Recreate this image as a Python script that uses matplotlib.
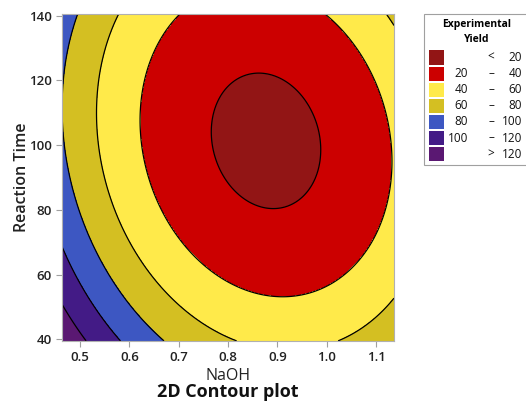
import numpy as np
import matplotlib.pyplot as plt
from matplotlib.patches import Rectangle

plt.rcParams['font.family'] = ['Open Sans', 'DejaVu Sans']

# Fitted response surface: Yield = b0 + b1*NaOH + b2*Time + b11*NaOH^2 + b22*Time^2 + b12*NaOH*Time
coef_const = 470.3
coef_linear = [-729.9, -2.663]      # NaOH, Time
coef_square = [385.0, 0.01081]      # NaOH^2, Time^2
coef_inter = 0.539                  # NaOH*Time

naoh_range = [0.4636, 1.1364]
time_range = [39.5, 140.5]

levels = [20, 40, 60, 80, 100, 120]
colors = ['#921515', '#cc0000', '#ffea4a', '#d4bf22', '#3d57c2', '#431b86', '#5a1872']
leg_low = ['', '20', '40', '60', '80', '100', '']
leg_mid = ['<', '–', '–', '–', '–', '–', '>']
leg_high = ['20', '40', '60', '80', '100', '120', '120']

xticks = [0.5, 0.6, 0.7, 0.8, 0.9, 1.0, 1.1]
yticks = [40, 60, 80, 100, 120, 140]

# Evaluate model on grid
x = np.linspace(naoh_range[0], naoh_range[1], 300)
t = np.linspace(time_range[0], time_range[1], 300)
X, T = np.meshgrid(x, t)
Y = (coef_const + coef_linear[0] * X + coef_linear[1] * T
     + coef_square[0] * X ** 2 + coef_square[1] * T ** 2 + coef_inter * X * T)

fig = plt.figure(figsize=(5.26, 4.01), dpi=100)
ax = fig.add_axes([0.118, 0.150, 0.631, 0.815])

bounds = [-1e6] + levels + [1e6]
ax.contourf(X, T, Y, levels=bounds, colors=colors)
ax.contour(X, T, Y, levels=levels, colors='black', linewidths=0.9)

ax.set_xlim(naoh_range)
ax.set_ylim(time_range)
ax.set_xticks(xticks)
ax.set_xticklabels([f'{v:.1f}' for v in xticks])
ax.set_yticks(yticks)
for s in ax.spines.values():
    s.set_color('#b0b0b0')
ax.tick_params(colors='#a0a0a0', labelcolor='#222222', length=4, labelsize=9.5)
for lab in ax.get_xticklabels() + ax.get_yticklabels():
    lab.set_fontweight('semibold')

ax.set_xlabel('NaOH', fontsize=11.5, fontweight='medium', color='#222222', labelpad=3)
ax.set_ylabel('Reaction Time', fontsize=11.5, fontweight='semibold', color='#222222', labelpad=-1)

W, H = 526, 401
def fx(px):
    return px / W
def fy(py):
    return 1 - py / H

fig.text(fx(228), fy(392), '2D Contour plot', ha='center', va='center',
         fontsize=13, fontweight='bold', color='#111111')

# Legend box
fig.patches.append(Rectangle((fx(424), fy(165)), fx(110), 151 / H, transform=fig.transFigure,
                             facecolor='white', edgecolor='#a0a0a0', linewidth=0.8))
fig.text(fx(477), fy(25), 'Experimental', ha='center', va='center', fontsize=7.5, fontweight='bold')
fig.text(fx(477), fy(39), 'Yield', ha='center', va='center', fontsize=7.5, fontweight='bold')
for i, c in enumerate(colors):
    yc = 57.5 + i * 16.1
    fig.patches.append(Rectangle((fx(429), fy(yc + 7)), fx(15), 14 / H, transform=fig.transFigure,
                                 facecolor=c, edgecolor='none'))
    fig.text(fx(468), fy(yc), leg_low[i], ha='right', va='center', fontsize=8.5,
             fontweight='medium', color='#111111')
    fig.text(fx(491), fy(yc), leg_mid[i], ha='center', va='center', fontsize=8.5,
             fontweight='medium', color='#111111')
    fig.text(fx(522), fy(yc), leg_high[i], ha='right', va='center', fontsize=8.5,
             fontweight='medium', color='#111111')

fig.savefig('out.png', dpi=100)
